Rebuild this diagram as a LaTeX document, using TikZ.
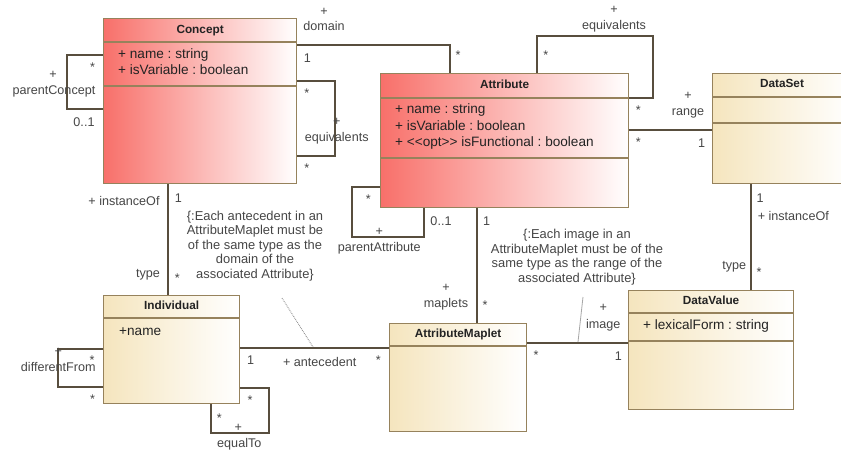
\documentclass[tikz,border=0pt]{standalone}
\usepackage{fontspec}
\setmainfont{Liberation Sans}
\usetikzlibrary{calc}
\frenchspacing
\definecolor{redL}{RGB}{248,112,106}
\definecolor{beigeL}{RGB}{245,229,190}
\definecolor{bordc}{RGB}{150,130,92}
\definecolor{linec}{RGB}{88,78,62}
\definecolor{txtc}{RGB}{35,35,35}
\definecolor{lblc}{RGB}{70,70,70}
\definecolor{constrc}{RGB}{130,130,130}
\begin{document}
\frenchspacing
\begin{tikzpicture}[x=1pt,y=-1pt,
  classbox/.style={draw=bordc, line width=1.2pt, rectangle, inner sep=0pt, anchor=north west},
  redbox/.style={classbox, left color=redL, right color=white},
  beigebox/.style={classbox, left color=beigeL, right color=white},
  hdr/.style={font=\fontsize{11.8}{14}\selectfont\bfseries, text=txtc, inner sep=0pt, text height=0.72em, text depth=0pt},
  attr/.style={font=\fontsize{13.6}{16}\selectfont, text=txtc, anchor=west, inner sep=0pt, text height=0.72em, text depth=0pt},
  lbl/.style={font=\fontsize{12.6}{14}\selectfont, text=lblc, inner sep=0pt, text height=0.72em, text depth=0pt},
  conn/.style={draw=linec, line width=1.1pt},
  sep/.style={draw=bordc, line width=1.1pt},
  notetext/.style={font=\fontsize{12.9}{14.6}\selectfont, text=lblc, align=center, inner sep=0pt},
  constr/.style={draw=constrc, line width=0.8pt, densely dotted},
  constrb/.style={draw=constrc!70, line width=0.8pt}
]
\path[use as bounding box] (0,0) rectangle (841,451);
\clip (0,0) rectangle (841,451);
\fill[white] (0,0) rectangle (841,451);

% ---------- class boxes ----------
\node[redbox, minimum width=193pt, minimum height=165pt] (concept) at (103,18) {};
\draw[sep] (concept.west |- 0,42) -- (concept.east |- 0,42);
\draw[sep] (concept.west |- 0,86) -- (concept.east |- 0,86);
\node[hdr] (conceptH) at (concept.north |- 0,30) {Concept};
\node[attr] (conceptA1) at (118,55) {+ name : string};
\node[attr] (conceptA2) at (118,71) {+ isVariable : boolean};

\node[redbox, minimum width=248pt, minimum height=134pt] (attribute) at (380,73) {};
\draw[sep] (attribute.west |- 0,98) -- (attribute.east |- 0,98);
\draw[sep] (attribute.west |- 0,158) -- (attribute.east |- 0,158);
\node[hdr] (attributeH) at (attribute.north |- 0,85) {Attribute};
\node[attr] (attributeA1) at (395,110) {+ name : string};
\node[attr] (attributeA2) at (395,127) {+ isVariable : boolean};
\node[attr] (attributeA3) at (395,143) {+ <\kern0pt<opt>\kern0pt> isFunctional : boolean};

\node[beigebox, minimum width=140pt, minimum height=110pt] (dataset) at (712,73) {};
\draw[sep] (dataset.west |- 0,97) -- (dataset.east |- 0,97);
\draw[sep] (dataset.west |- 0,123) -- (dataset.east |- 0,123);
\node[hdr] (datasetH) at (782,84) {DataSet};

\node[beigebox, minimum width=136pt, minimum height=108pt] (individual) at (103,295) {};
\draw[sep] (individual.west |- 0,318) -- (individual.east |- 0,318);
\node[hdr] (individualH) at (individual.north |- 0,306) {Individual};
\node[attr] (individualA1) at (119,332) {+name};

\node[beigebox, minimum width=137pt, minimum height=108pt] (maplet) at (389,323) {};
\draw[sep] (maplet.west |- 0,346) -- (maplet.east |- 0,346);
\node[hdr] (mapletH) at (maplet.north |- 0,334) {AttributeMaplet};

\node[beigebox, minimum width=165pt, minimum height=119pt] (datavalue) at (628,290) {};
\draw[sep] (datavalue.west |- 0,313) -- (datavalue.east |- 0,313);
\draw[sep] (datavalue.west |- 0,341) -- (datavalue.east |- 0,341);
\node[hdr] (datavalueH) at (datavalue.north |- 0,301) {DataValue};
\node[attr] (datavalueA1) at (643,326) {+ lexicalForm : string};

% ---------- connectors ----------
% parentConcept
\draw[conn] (concept.west |- 0,55) -- ++(-36,0) |- (concept.west |- 0,109);
% domain
\draw[conn] (concept.east |- 0,45) -| (attribute.north -| 450,0);
% Concept equivalents
\draw[conn] (concept.east |- 0,81) -- (335,81) |- (concept.east |- 0,156);
% Attribute equivalents
\draw[conn] (attribute.north -| 537,0) |- (653,36) |- (attribute.east |- 0,98);
% range
\draw[conn] (attribute.east |- 0,130) -- (dataset.west |- 0,130);
% parentAttribute
\draw[conn] (attribute.west |- 0,187) -- ++(-28,0) |- (424,237) -- (attribute.south -| 424,0);
% maplets
\draw[conn] (attribute.south -| 477,0) -- (maplet.north -| 477,0);
% Concept instanceOf
\draw[conn] (concept.south -| 168,0) -- (individual.north -| 168,0);
% DataSet instanceOf
\draw[conn] (dataset.south -| 751,0) -- (datavalue.north -| 751,0);
% antecedent
\draw[conn] (individual.east |- 0,348) -- (maplet.west |- 0,348);
% image
\draw[conn] (maplet.east |- 0,343) -- (datavalue.west |- 0,343);
% differentFrom
\draw[conn] (individual.west |- 0,349) -- ++(-45,0) |- (individual.west |- 0,387);
% equalTo
\draw[conn] (individual.south -| 211,0) -- (211,433) -| (269,388) -- (individual.east |- 0,388);

% ---------- labels ----------
\node[lbl] (pc1) at (53,75) {+};
\node[lbl] (pc2) at (54,91) {parentConcept};
\node[lbl] (pc3) at (92.5,68) {*};
\node[lbl] (pc4) at (84,123) {0..1};

\node[lbl] (dm1) at (324,12) {+};
\node[lbl] (dm2) at (324,27) {domain};
\node[lbl] (dm3) at (307.5,59) {1};
\node[lbl] (dm4) at (458,56) {*};

\node[lbl] (ce1) at (306.7,94) {*};
\node[lbl] (ce2) at (336.7,122) {+};
\node[lbl] (ce3) at (336.7,138) {equivalents};
\node[lbl] (ce4) at (306.7,169) {*};

\node[lbl] (ae1) at (614,10) {+};
\node[lbl] (ae2) at (614,25.7) {equivalents};
\node[lbl] (ae3) at (545.7,56) {*};
\node[lbl] (ae4) at (638.3,111) {*};

\node[lbl] (rg1) at (688,96) {+};
\node[lbl] (rg2) at (688,112) {range};
\node[lbl] (rg3) at (638.3,143) {*};
\node[lbl] (rg4) at (701.7,144) {1};

\node[lbl] (pa1) at (368.3,200) {*};
\node[lbl] (pa2) at (379.3,232) {+};
\node[lbl] (pa3) at (379.3,247.7) {parentAttribute};
\node[lbl] (pa4) at (441,222.3) {0..1};

\node[lbl] (mp1) at (486.7,222.3) {1};
\node[lbl] (mp2) at (446,288.3) {+};
\node[lbl] (mp3) at (446,304.3) {maplets};
\node[lbl] (mp4) at (485,306) {*};

\node[lbl] (io1) at (124,201.7) {+ instanceOf};
\node[lbl] (io2) at (178.3,199) {1};
\node[lbl] (io3) at (148,274.3) {type};
\node[lbl] (io4) at (177.3,279) {*};

\node[lbl] (di1) at (760,199) {1};
\node[lbl] (di2) at (793.3,216.7) {+ instanceOf};
\node[lbl] (di3) at (734.3,265.7) {type};
\node[lbl] (di4) at (759,273) {*};

\node[lbl] (an1) at (250.7,361) {1};
\node[lbl] (an2) at (319.7,363.3) {+ antecedent};
\node[lbl] (an3) at (378.3,361) {*};

\node[lbl] (im1) at (536,356) {*};
\node[lbl] (im2) at (603.3,308.3) {+};
\node[lbl] (im3) at (603.3,325) {image};
\node[lbl] (im4) at (618.3,356.7) {1};

\node[lbl] (df1) at (58.3,352.3) {+};
\node[lbl] (df2) at (58.3,367.7) {differentFrom};
\node[lbl] (df3) at (92,361) {*};
\node[lbl] (df4) at (92.7,400) {*};

\node[lbl] (eq1) at (250,401) {*};
\node[lbl] (eq2) at (219.3,419) {*};
\node[lbl] (eq3) at (238.3,428.3) {+};
\node[lbl] (eq4) at (239.3,444.3) {equalTo};

% ---------- constraints ----------
\node[notetext] (note1) at (255,246) {\{:Each antecedent in an\\AttributeMaplet must be\\of the same type as the\\domain of the\\associated Attribute\}};
\coordinate (n1a) at (282,298);
\coordinate (n1b) at (313,347);
\draw[constr] (n1a) -- (n1b);

\node[notetext] (note2) at (577,257) {\{:Each image in an\\AttributeMaplet must be of the\\same type as the range of the\\associated Attribute\}};
\coordinate (n2a) at (583,297);
\coordinate (n2b) at (578,342);
\draw[constrb] (n2a) -- (n2b);
\end{tikzpicture}
\end{document}
